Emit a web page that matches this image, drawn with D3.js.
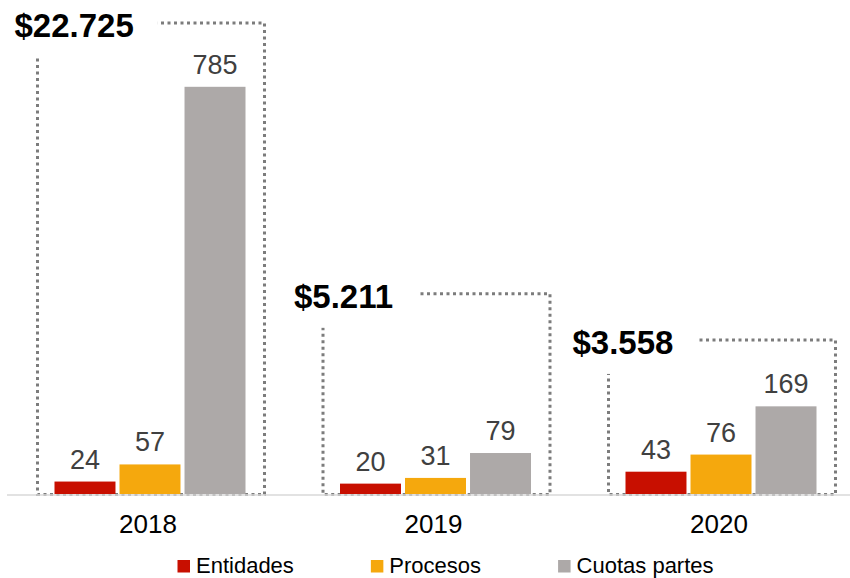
<!DOCTYPE html>
<html>
<head>
<meta charset="utf-8">
<script src="https://cdn.jsdelivr.net/npm/d3@7/dist/d3.min.js"></script>
<style>
  html, body { margin: 0; padding: 0; background: #fff; }
  svg { display: block; font-family: "Liberation Sans", Arial, Helvetica, sans-serif; }
</style>
</head>
<body>
<svg id="chart" width="850" height="578"></svg>
<script>
// ---- data ----
const years = ["2018", "2019", "2020"];
const seriesNames = ["Entidades", "Procesos", "Cuotas partes"];
const entidades = [24, 20, 43];
const procesos = [57, 31, 76];
const cuotasPartes = [785, 79, 169];
const totals = ["$22.725", "$5.211", "$3.558"];

// ---- layout ----
const W = 850, H = 578;
const baseY = 494;
const colors = ["#C80F00", "#F5A80D", "#ADA9A8"];
const frameLevel = [908, 386, 297];      // frame height per year, in value units
const labelShift = [-23, -29, -36];      // total label offset from frame left edge
const framePadL = 17, framePadR = 19;

const svg = d3.select("#chart");

const seriesValues = [entidades, procesos, cuotasPartes];
const rows = years.map((yr, i) => ({
  year: yr,
  total: totals[i],
  values: seriesNames.map((s, k) => ({ series: s, value: seriesValues[k][i] }))
}));

const x0 = d3.scaleBand().domain(years).range([7.25, 863.75]).paddingInner(0.331).paddingOuter(0.1655);
const x1 = d3.scaleBand().domain(seriesNames).range([0, x0.bandwidth()]).paddingInner(0.062);
const y = d3.scaleLinear().domain([0, 908]).range([baseY, 23]);
const color = d3.scaleOrdinal().domain(seriesNames).range(colors);

// dotted frames around each year
const frames = svg.append("g");
rows.forEach((r, i) => {
  const left = x0(r.year) - framePadL;
  const right = x0(r.year) + x0.bandwidth() + framePadR;
  const top = y(frameLevel[i]);
  frames.append("rect")
    .attr("x", left).attr("y", top)
    .attr("width", right - left).attr("height", baseY + 0.5 - top)
    .attr("fill", "none")
    .attr("stroke", "#7C7C7C")
    .attr("stroke-width", 3)
    .attr("stroke-dasharray", "3,3.5");
});

// axis line
const xAxis = svg.append("g").attr("transform", `translate(0,${baseY + 1})`)
  .call(d3.axisBottom(x0).tickSize(0).tickPadding(0).tickFormat(""));
xAxis.select(".domain").attr("d", `M7,0H${W}`).attr("stroke", "#D9D9D9").attr("stroke-width", 1.5);

// year labels
svg.append("g").selectAll("text").data(years).join("text")
  .attr("x", d => x0(d) + x0.bandwidth() / 2 - 2)
  .attr("y", 533)
  .attr("text-anchor", "middle")
  .attr("font-size", 26)
  .attr("fill", "#000")
  .text(d => d);

// bars
const groups = svg.append("g").selectAll("g").data(rows).join("g")
  .attr("transform", d => `translate(${x0(d.year)},0)`);
groups.selectAll("rect").data(d => d.values).join("rect")
  .attr("x", d => x1(d.series))
  .attr("y", d => y(d.value))
  .attr("width", x1.bandwidth())
  .attr("height", d => baseY - y(d.value))
  .attr("fill", d => color(d.series));

// value labels
groups.selectAll("text").data(d => d.values).join("text")
  .attr("x", d => x1(d.series) + x1.bandwidth() / 2)
  .attr("y", d => y(d.value) - 13)
  .attr("text-anchor", "middle")
  .attr("font-size", 27)
  .attr("fill", "#404040")
  .text(d => d.value);

// totals with a white backing that interrupts the frame
const totalG = svg.append("g");
rows.forEach((r, i) => {
  const left = x0(r.year) - framePadL;
  const top = y(frameLevel[i]);
  const g = totalG.append("g");
  const bg = g.append("rect").attr("fill", "#fff");
  const t = g.append("text")
    .attr("x", left + labelShift[i])
    .attr("y", top + 14)
    .attr("font-size", 33)
    .attr("font-weight", "bold")
    .attr("fill", "#000")
    .text(r.total);
  const bb = t.node().getBBox();
  bg.attr("x", bb.x - 4).attr("y", bb.y - 4)
    .attr("width", bb.width + 28)
    .attr("height", (top + 14 + 20) - (bb.y - 4));
});

// legend
const legend = svg.append("g");
let lx = 177.5;
seriesNames.forEach(s => {
  legend.append("rect")
    .attr("x", lx).attr("y", 560)
    .attr("width", 12.5).attr("height", 12.5)
    .attr("fill", color(s));
  const t = legend.append("text")
    .attr("x", lx + 18.5).attr("y", 572.5)
    .attr("font-size", 22)
    .attr("fill", "#000")
    .text(s);
  lx += 18.5 + t.node().getComputedTextLength() + 77;
});
</script>
</body>
</html>
